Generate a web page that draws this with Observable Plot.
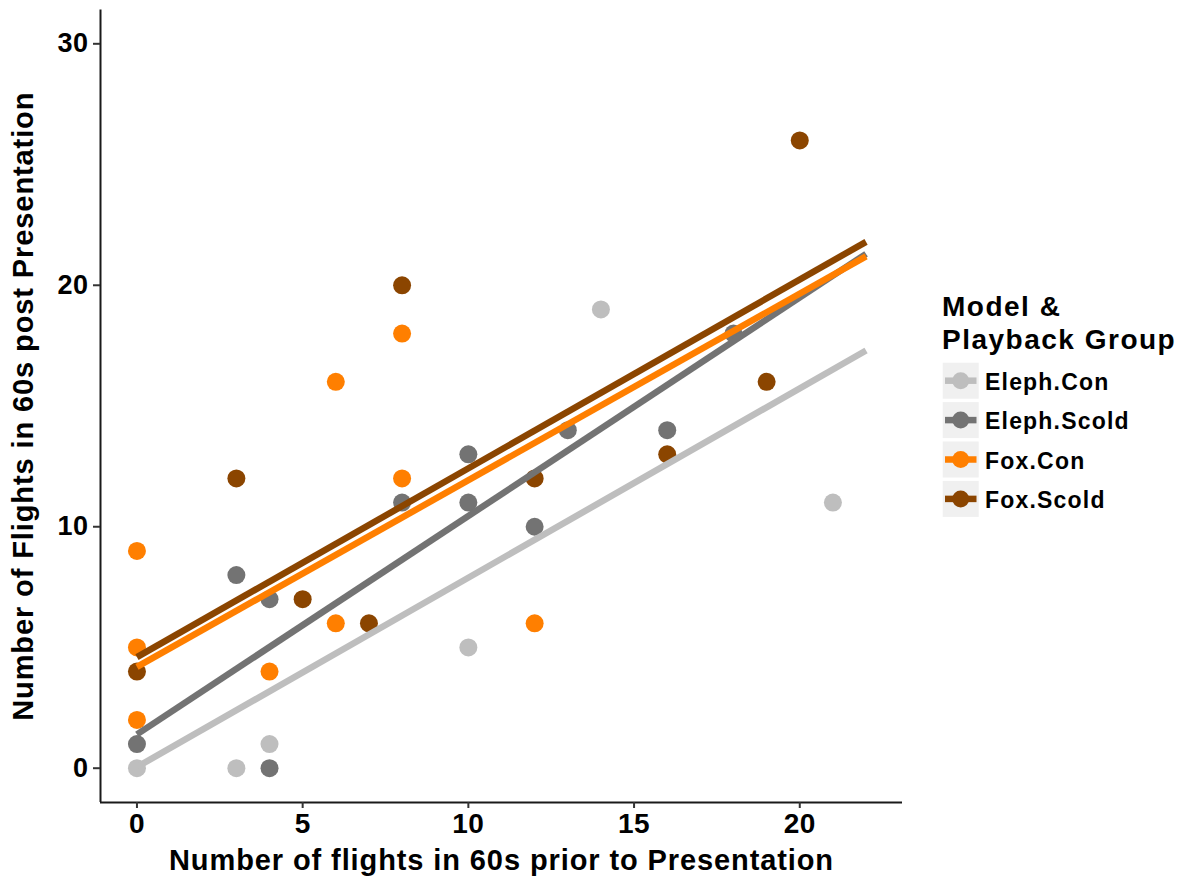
<!DOCTYPE html>
<html><head><meta charset="utf-8">
<script src="https://cdn.jsdelivr.net/npm/d3@7"></script>
<script src="https://cdn.jsdelivr.net/npm/@observablehq/plot@0.6"></script>
<style>
body{margin:0;background:#fff;font-family:"Liberation Sans",Arial,sans-serif;}
#wrap{position:relative;width:1188px;height:884px;overflow:hidden;}
</style></head><body><div id="wrap"></div>
<script>
const groups = ["Eleph.Con", "Eleph.Scold", "Fox.Con", "Fox.Scold"];
const groupColors = ["#BEBEBE", "#737373", "#FF7F00", "#8B4500"];
const xTicks = [0, 5, 10, 15, 20];
const yTicks = [0, 10, 20, 30];
const xDomain = [-1.1, 23.1];
const yDomain = [-1.42, 31.4];
const xLabel = "Number of flights in 60s prior to Presentation";
const yLabel = "Number of Flights in 60s post Presentation";
const legendTitle = ["Model &", "Playback Group"];

// observed points per group (prior flights, post flights)
const elephConPrior = [0, 3, 4, 10, 14, 21];
const elephConPost  = [0, 0, 1, 5, 19, 11];
const elephScoldPrior = [0, 3, 4, 4, 8, 10, 10, 12, 13, 16, 18];
const elephScoldPost  = [1, 8, 7, 0, 11, 13, 11, 10, 14, 14, 18];
const foxConPrior = [0, 0, 0, 4, 6, 6, 8, 8, 12];
const foxConPost  = [9, 5, 2, 4, 16, 6, 18, 12, 6];
const foxScoldPrior = [0, 3, 5, 7, 8, 12, 16, 19, 20];
const foxScoldPost  = [4, 12, 7, 6, 20, 12, 13, 16, 26];

// fitted lines at prior = 0 and prior = 22
const fitPrior = [0, 22];
const fitStart = [0.05, 1.4, 4.2, 4.6];
const fitEnd   = [17.3, 21.3, 21.2, 21.8];

const priors = [elephConPrior, elephScoldPrior, foxConPrior, foxScoldPrior];
const posts  = [elephConPost, elephScoldPost, foxConPost, foxScoldPost];
const pts = groups.flatMap((g, i) => priors[i].map((v, j) => ({group: g, prior: v, post: posts[i][j]})));
const fits = groups.flatMap((g, i) => [
  {group: g, prior: fitPrior[0], post: fitStart[i]},
  {group: g, prior: fitPrior[1], post: fitEnd[i]}
]);

const plot = Plot.plot({
  width: 930, height: 884,
  marginLeft: 100, marginRight: 28, marginTop: 9.5, marginBottom: 82,
  x: {domain: xDomain},
  y: {domain: yDomain},
  color: {domain: groups, range: groupColors},
  style: {fontFamily: "'Liberation Sans', Arial, sans-serif", fontWeight: "bold", color: "black", background: "white"},
  marks: [
    Plot.dot(pts, {x: "prior", y: "post", fill: "group", r: 9}),
    Plot.line(fits, {x: "prior", y: "post", stroke: "group", z: "group", strokeWidth: 6.5, strokeLinecap: "butt"}),
    Plot.ruleX([xDomain[0]], {stroke: "#1a1a1a", strokeWidth: 2}),
    Plot.ruleY([yDomain[0]], {stroke: "#1a1a1a", strokeWidth: 2}),
    Plot.axisX({ticks: xTicks, tickSize: 6, tickPadding: 5, fontSize: 28, stroke: "#333", strokeWidth: 2, label: null}),
    Plot.axisY({ticks: yTicks, tickSize: 7, tickPadding: 5, fontSize: 27, stroke: "#333", strokeWidth: 2, label: null}),
    Plot.text([xLabel], {frameAnchor: "bottom", textAnchor: "middle", lineAnchor: "top", dy: 47, fontSize: 29, fill: "black"}),
    Plot.text([yLabel], {frameAnchor: "left", textAnchor: "middle", rotate: -90, lineAnchor: "top", dx: -88, fontSize: 29, fill: "black"})
  ]
});
d3.select(plot).selectAll('g[aria-label="text"] text').attr("letter-spacing", "0.9px");
d3.select(plot).selectAll('g[aria-label="x-axis tick label"] text, g[aria-label="y-axis tick label"] text').attr("letter-spacing", "0.5px");
document.getElementById("wrap").appendChild(plot);

// legend
const leg = d3.select("#wrap").append("svg")
  .attr("width", 258).attr("height", 260)
  .style("position", "absolute").style("left", "930px").style("top", "280px")
  .style("font-family", "'Liberation Sans', Arial, sans-serif").style("font-weight", "bold");
legendTitle.forEach((t, i) => {
  leg.append("text").attr("x", 12).attr("y", 36 + i * 32.5)
    .attr("font-size", 28).attr("letter-spacing", "1.5px").attr("fill", "black").text(t);
});
groups.forEach((g, i) => {
  const top = 82.7 + i * 39.4;
  const row = leg.append("g");
  row.append("rect").attr("x", 12.7).attr("y", top).attr("width", 36).attr("height", 36).attr("fill", "#F0F0F0");
  row.append("line").attr("x1", 15).attr("x2", 46.5).attr("y1", top + 18).attr("y2", top + 18)
    .attr("stroke", groupColors[i]).attr("stroke-width", 6.5);
  row.append("circle").attr("cx", 30.7).attr("cy", top + 18).attr("r", 8.5).attr("fill", groupColors[i]);
  row.append("text").attr("x", 55).attr("y", top + 27.3).attr("font-size", 23)
    .attr("letter-spacing", "1.2px").attr("fill", "black").text(g);
});
</script></body></html>
